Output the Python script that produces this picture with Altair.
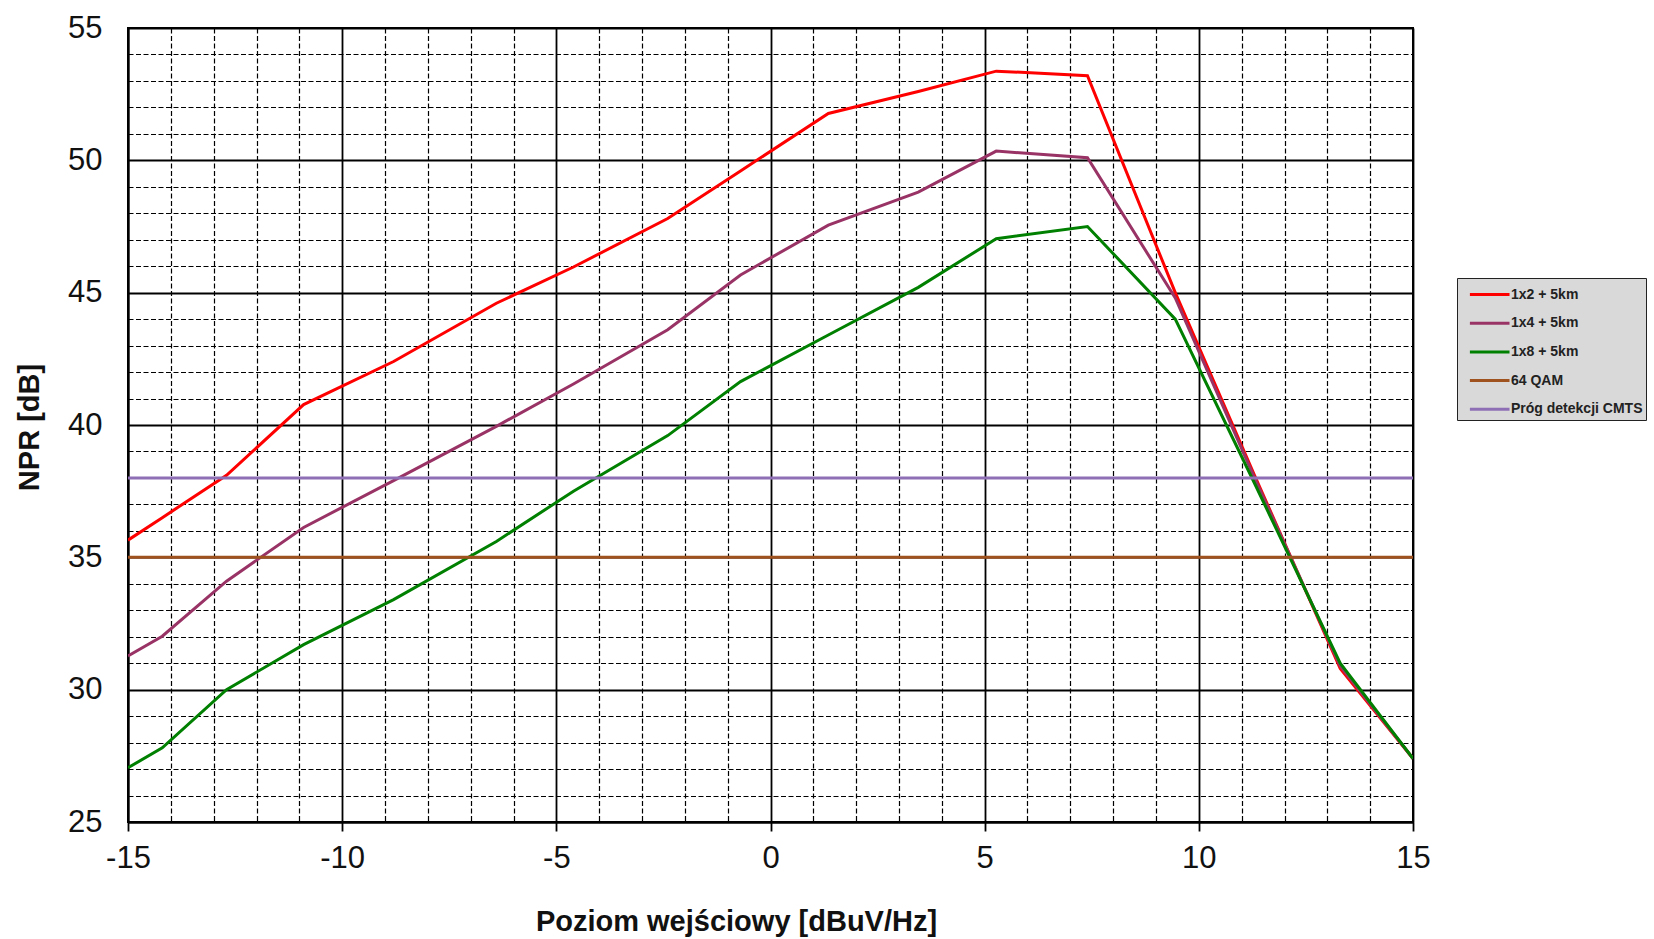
import altair as alt
import pandas as pd

# ---- data ----
x_points = [-15, -14.2, -12.7, -10.9, -8.8, -6.4, -4.6, -2.4, -0.7, 1.35, 3.45, 5.27, 7.4, 9.45, 11.3, 13.3, 15]
npr_1x2 = [35.65, 36.5, 38.1, 40.77, 42.4, 44.6, 45.97, 47.8, 49.6, 51.77, 52.6, 53.37, 53.2, 45.0, 38.1, 30.8, 27.4]
npr_1x4 = [31.27, 32.02, 34.1, 36.13, 37.9, 39.95, 41.55, 43.6, 45.67, 47.55, 48.8, 50.35, 50.1, 44.8, 38.0, 30.9, 27.4]
npr_1x8 = [27.05, 27.8, 30.0, 31.7, 33.4, 35.6, 37.5, 39.6, 41.64, 43.4, 45.2, 47.04, 47.5, 44.0, 37.8, 31.0, 27.4]
qam64_level = 35
cmts_level = 38
x_range = [-15, 15]

series_names = ["1x2 + 5km", "1x4 + 5km", "1x8 + 5km", "64 QAM", "Próg detekcji CMTS"]
series_colors = ["#FF0000", "#993366", "#008000", "#A0521E", "#8E6FB5"]

x_ticks = list(range(-15, 16))
y_ticks = list(range(25, 56))

rows = []
for name, vals in zip(series_names[:3], [npr_1x2, npr_1x4, npr_1x8]):
    for i, (x, y) in enumerate(zip(x_points, vals)):
        rows.append({"series": name, "x": x, "y": y, "o": i})
for name, lvl in zip(series_names[3:], [qam64_level, cmts_level]):
    for i, x in enumerate(x_range):
        rows.append({"series": name, "x": x, "y": lvl, "o": i})
df = pd.DataFrame(rows)

major = "datum.value % 5 === 0"
label_expr = f"{major} ? ('' + datum.value) : ''"

x_axis = alt.Axis(
    values=x_ticks,
    labelExpr=label_expr,
    grid=True,
    gridColor="black",
    gridDash={"condition": {"test": major, "value": []}, "value": [5, 2.5]},
    gridWidth={"condition": {"test": major, "value": 1.8}, "value": 1.2},
    tickSize=9,
    tickColor="black",
    tickWidth=1.8,
    tickOpacity={"condition": {"test": major, "value": 1}, "value": 0},
    domainColor="black",
    domainWidth=2,
    labelFont="Liberation Sans",
    labelFontSize=31,
    labelColor="#111",
    labelPadding=12,
    labelOverlap=False,
    labelFlush=False,
    title="Poziom wejściowy [dBuV/Hz]",
    titleFont="Liberation Sans",
    titleFontSize=29,
    titleFontWeight="bold",
    titleColor="#111",
    titleX=608,
    titleY=99,
    titleBaseline="middle",
    titleAlign="center",
)

y_axis = alt.Axis(
    values=y_ticks,
    labelExpr=label_expr,
    grid=True,
    gridColor="black",
    gridDash={"condition": {"test": major, "value": []}, "value": [5, 2.5]},
    gridWidth={"condition": {"test": major, "value": 1.8}, "value": 1.2},
    ticks=False,
    domainColor="black",
    domainWidth=2,
    labelFont="Liberation Sans",
    labelFontSize=31,
    labelColor="#111",
    labelPadding=26,
    labelOverlap=False,
    labelFlush=False,
    title="NPR [dB]",
    titleFont="Liberation Sans",
    titleFontSize=29,
    titleFontWeight="bold",
    titleColor="#111",
    titleAngle=270,
    titleX=-99,
    titleY=399,
    titleBaseline="middle",
    titleAlign="center",
)

legend = alt.Legend(
    orient="none",
    legendX=1329,
    legendY=250,
    title=None,
    fillColor="#D9D9D9",
    strokeColor="#222222",
    padding=3,
    symbolType="M-0.3,0L3,0",
    symbolSize=576,
    symbolStrokeWidth=3,
    labelFont="Liberation Sans",
    labelFontSize=14,
    labelFontWeight="bold",
    labelColor="#222222",
    labelOffset=24,
    rowPadding=7.7,
    labelLimit=300,
)

chart = (
    alt.Chart(df)
    .mark_line(strokeWidth=3, clip=True)
    .encode(
        x=alt.X("x:Q", scale=alt.Scale(domain=[-15, 15], nice=False, zero=False), axis=x_axis),
        y=alt.Y("y:Q", scale=alt.Scale(domain=[25, 55], nice=False, zero=False), axis=y_axis),
        color=alt.Color(
            "series:N",
            scale=alt.Scale(domain=series_names, range=series_colors),
            legend=legend,
            sort=series_names,
        ),
        order="o:Q",
        detail="series:N",
    )
    .properties(
        width=1285,
        height=794,
        autosize=alt.AutoSizeParams(type="none"),
        padding={"left": 128, "top": 28, "right": 241, "bottom": 117},
        background="white",
    )
    .configure_view(stroke="black", strokeWidth=2)
)

chart.save("out.html", embed_options={"renderer": "svg", "actions": False})
